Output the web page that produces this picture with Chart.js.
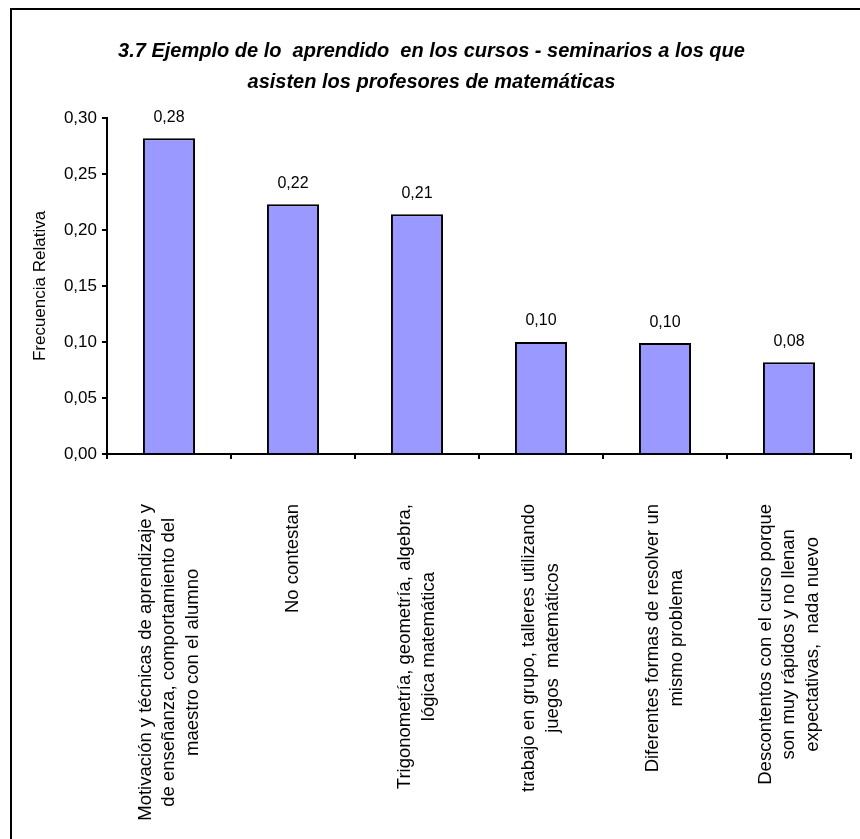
<!DOCTYPE html>
<html>
<head>
<meta charset="utf-8">
<script src="https://cdn.jsdelivr.net/npm/chart.js@4"></script>
<style>
  body { margin: 0; background: #fff; }
  #frame {
    position: absolute; left: 10px; top: 8px;
    width: 848px; height: 831px;
    border-left: 2px solid #000; border-top: 2px solid #000;
  }
  #box { position: relative; width: 848px; height: 829px; }
</style>
</head>
<body>
<div id="frame"><div id="box"><canvas id="myChart"></canvas></div></div>
<script>
// data
var categories = [
    ['Motivación y técnicas de aprendizaje y', 'de enseñanza, comportamiento del', 'maestro con el alumno'],
    ['No contestan'],
    ['Trigonometría, geometría, algebra,', 'lógica matemática'],
    ['trabajo en grupo, talleres utilizando', 'juegos  matemáticos'],
    ['Diferentes formas de resolver un', 'mismo problema'],
    ['Descontentos con el curso porque', 'son muy rápidos y no llenan', 'expectativas,  nada nuevo']
];
var frecuencia = [0.282, 0.223, 0.214, 0.100, 0.099, 0.082];
var yMin = 0, yMax = 0.30, yStep = 0.05;
var titleLines = [
    '3.7 Ejemplo de lo  aprendido  en los cursos - seminarios a los que',
    'asisten los profesores de matemáticas'
];

var FONT = '"Liberation Sans", Arial, sans-serif';
Chart.defaults.font.family = FONT;
Chart.defaults.color = '#000';

function fmt(v) {
    return v.toFixed(2).replace('.', ',');
}

// value labels above each bar
var barLabels = {
    id: 'barLabels',
    afterDatasetsDraw: function (chart) {
        var ctx = chart.ctx;
        var meta = chart.getDatasetMeta(0);
        ctx.save();
        ctx.font = '16px ' + FONT;
        ctx.fillStyle = '#000';
        ctx.textAlign = 'center';
        ctx.textBaseline = 'middle';
        meta.data.forEach(function (bar, i) {
            ctx.fillText(fmt(frecuencia[i]), bar.x, bar.y - 21);
        });
        ctx.restore();
    }
};

// vertical category labels, lines centred like excel does it
var catLabels = {
    id: 'catLabels',
    afterDraw: function (chart) {
        var xs = chart.scales.x;
        var ctx = chart.ctx;
        ctx.save();
        ctx.font = '18.5px ' + FONT;
        ctx.fillStyle = '#000';
        ctx.textAlign = 'center';
        ctx.textBaseline = 'middle';
        categories.forEach(function (lines, i) {
            var cx = xs.getPixelForValue(i);
            var w = 0;
            lines.forEach(function (l) { w = Math.max(w, ctx.measureText(l).width); });
            ctx.save();
            ctx.translate(cx, xs.top + 50);
            ctx.rotate(-Math.PI / 2);
            lines.forEach(function (l, j) {
                ctx.fillText(l, -w / 2, (j - (lines.length - 1) / 2) * 23.5);
            });
            ctx.restore();
        });
        ctx.restore();
    }
};

var ctx = document.getElementById('myChart').getContext('2d');
var myChart = new Chart(ctx, {
    type: 'bar',
    data: {
        labels: categories,
        datasets: [{
            label: 'Frecuencia Relativa',
            data: frecuencia,
            backgroundColor: '#9999FF',
            borderColor: '#000',
            borderWidth: 2,
            barPercentage: 0.42,
            categoryPercentage: 1
        }]
    },
    options: {
        responsive: true,
        maintainAspectRatio: false,
        animation: false,
        layout: {
            padding: { left: 0, right: 9, top: 0, bottom: 380 }
        },
        plugins: {
            legend: { display: false },
            tooltip: { enabled: false },
            title: {
                display: true,
                text: titleLines,
                color: '#000',
                font: { size: 20, weight: 'bold', style: 'italic', lineHeight: 1.55 },
                padding: { top: 26, bottom: 20 }
            }
        },
        scales: {
            x: {
                ticks: { display: false },
                grid: {
                    drawOnChartArea: false, drawTicks: true, tickLength: 5,
                    color: '#000', lineWidth: 2
                },
                border: { color: '#000', width: 2 }
            },
            y: {
                min: yMin,
                max: yMax,
                afterFit: function (s) { s.width = 95; },
                ticks: {
                    stepSize: yStep,
                    padding: 5,
                    font: { size: 17 },
                    callback: function (v) { return fmt(v); }
                },
                grid: {
                    drawOnChartArea: false, drawTicks: true, tickLength: 5,
                    color: '#000', lineWidth: 2
                },
                border: { color: '#000', width: 2 },
                title: {
                    display: true,
                    text: 'Frecuencia Relativa',
                    font: { size: 17 },
                    padding: { top: 18, bottom: 0 }
                }
            }
        }
    },
    plugins: [barLabels, catLabels]
});
</script>
</body>
</html>
